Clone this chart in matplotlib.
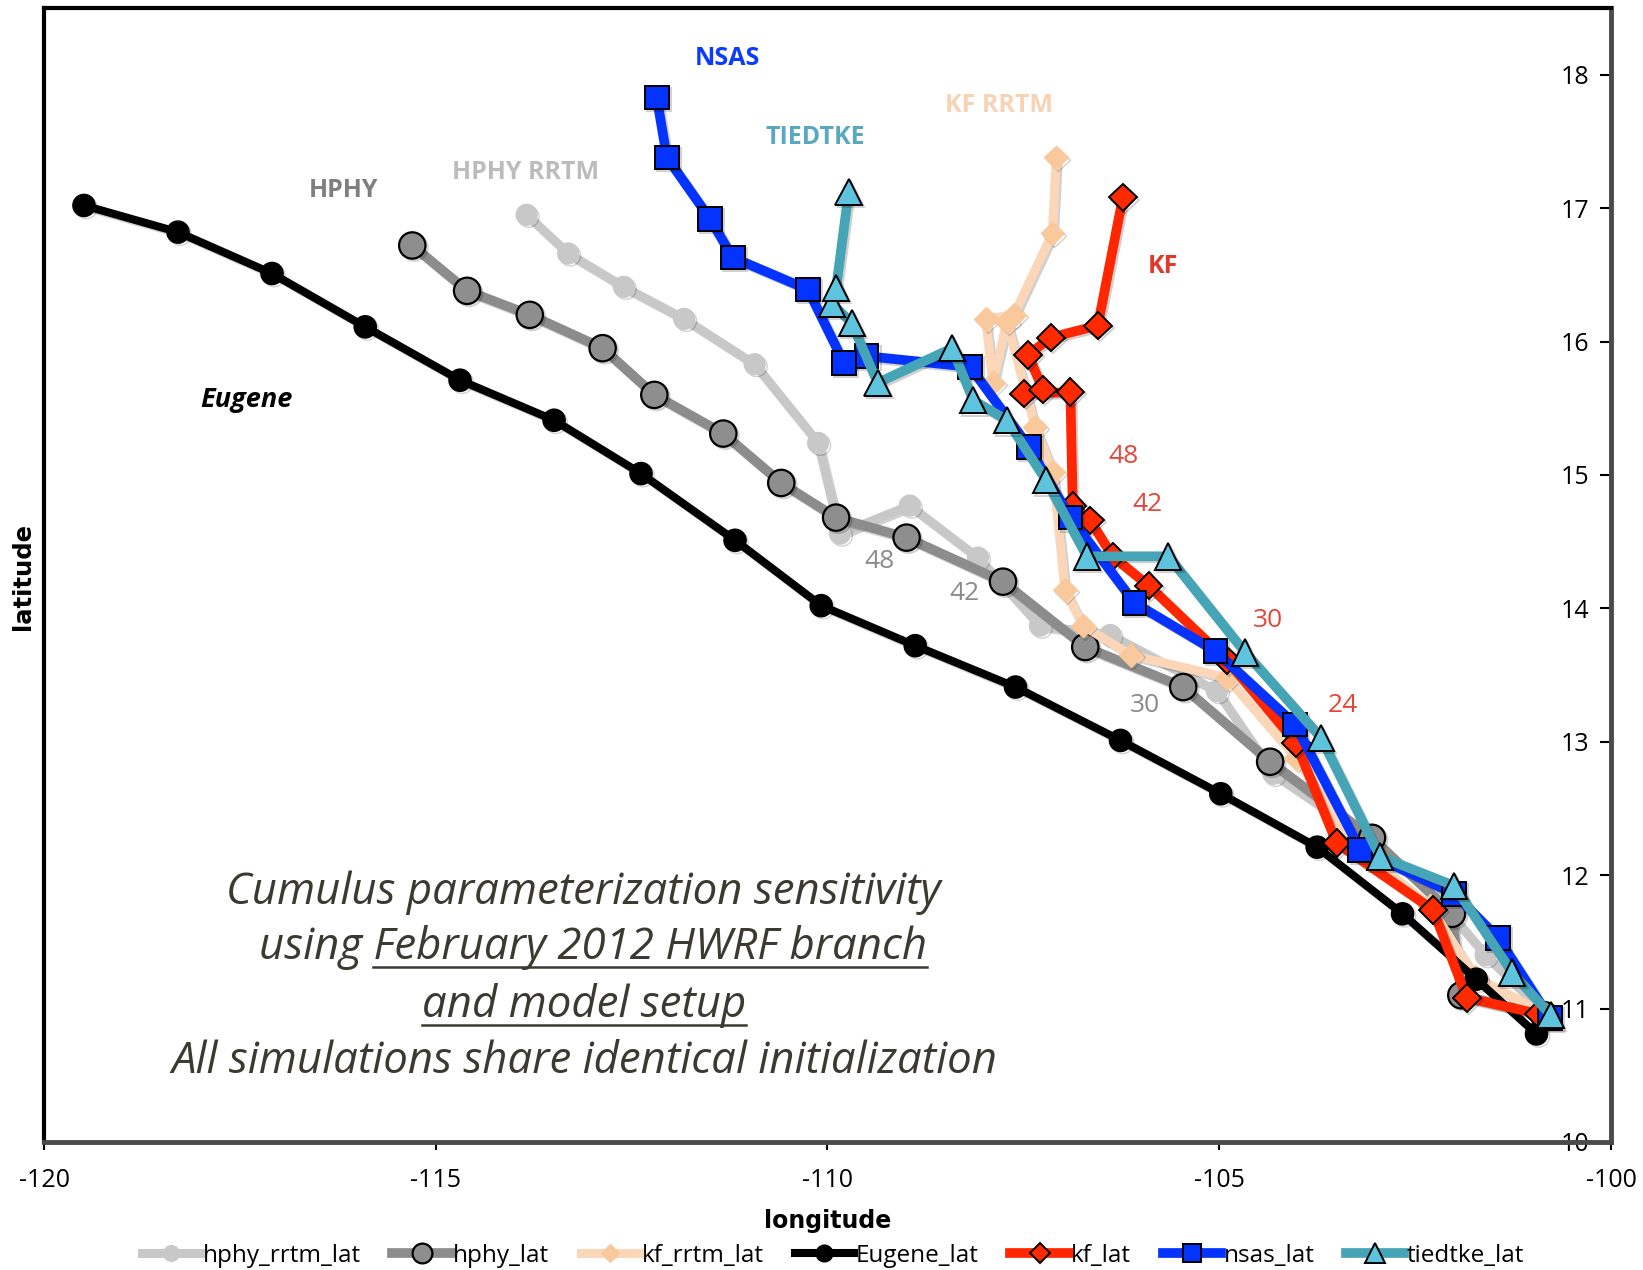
import numpy as np
import matplotlib.pyplot as plt
import matplotlib.patheffects as pe
from matplotlib.lines import Line2D

plt.rcParams['axes.unicode_minus'] = False

# storm track positions every 6 h, starting at the shared initial position
eugene_lon = [-100.95, -101.72, -102.66, -103.75, -104.98, -106.26, -107.60, -108.88, -110.08,
              -111.18, -112.38, -113.49, -114.69, -115.90, -117.09, -118.29, -119.49]
eugene_lat = [10.81, 11.22, 11.71, 12.21, 12.61, 13.01, 13.41, 13.72, 14.02,
              14.51, 15.01, 15.41, 15.71, 16.11, 16.51, 16.82, 17.02]

hphy_lon = [-100.85, -101.91, -102.03, -103.05, -104.35, -105.46, -106.71, -107.76, -108.99,
            -109.89, -110.59, -111.33, -112.21, -112.87, -113.80, -114.60, -115.30]
hphy_lat = [10.95, 11.10, 11.71, 12.28, 12.85, 13.41, 13.71, 14.20, 14.53,
            14.68, 14.94, 15.31, 15.60, 15.95, 16.20, 16.38, 16.72]

hphy_rrtm_lon = [-100.85, -101.60, -102.18, -103.05, -104.31, -105.03, -106.39, -107.29, -108.08,
                 -108.95, -109.84, -110.12, -110.93, -111.83, -112.60, -113.31, -113.84]
hphy_rrtm_lat = [10.97, 11.40, 11.80, 12.26, 12.76, 13.38, 13.80, 13.87, 14.38,
                 14.77, 14.56, 15.24, 15.83, 16.17, 16.41, 16.66, 16.95]

kf_lon = [-100.92, -101.84, -102.27, -103.50, -104.02, -104.90, -105.90, -106.36, -106.65,
          -106.87, -106.90, -107.49, -107.25, -107.44, -107.15, -106.55, -106.23]
kf_lat = [10.96, 11.08, 11.74, 12.24, 12.99, 13.61, 14.17, 14.39, 14.66,
          14.77, 15.62, 15.61, 15.64, 15.90, 16.03, 16.12, 17.08]

kf_rrtm_lon = [-100.84, -101.74, -102.31, -103.27, -104.02, -104.90, -106.13, -106.74, -106.97,
               -107.12, -107.35, -107.71, -107.89, -107.98, -107.62, -107.13, -107.08]
kf_rrtm_lat = [10.96, 11.24, 11.77, 12.22, 12.88, 13.48, 13.65, 13.87, 14.14,
               15.02, 15.36, 16.15, 15.69, 16.17, 16.20, 16.81, 17.38]

nsas_lon = [-100.78, -101.44, -102.00, -103.20, -104.03, -105.05, -106.08, -106.90, -107.43,
            -108.18, -109.50, -109.79, -110.25, -111.21, -111.50, -112.05, -112.18]
nsas_lat = [10.93, 11.53, 11.86, 12.19, 13.13, 13.68, 14.04, 14.68, 15.21,
            15.81, 15.89, 15.84, 16.39, 16.63, 16.92, 17.38, 17.83]

tiedtke_lon = [-100.77, -101.26, -102.00, -102.95, -103.70, -104.67, -105.65, -106.69, -107.21,
               -107.71, -108.14, -108.41, -109.36, -109.69, -109.94, -109.89, -109.73]
tiedtke_lat = [10.95, 11.27, 11.92, 12.14, 13.03, 13.67, 14.39, 14.39, 14.96,
               15.41, 15.56, 15.95, 15.69, 16.14, 16.28, 16.40, 17.12]

fig = plt.figure(figsize=(16.43, 12.70), dpi=100)
ax = fig.add_axes([0.0268, 0.1008, 0.9537, 0.8929])

shadow = [pe.SimpleLineShadow(offset=(1.5, -1.5), shadow_color='k', alpha=0.18), pe.Normal()]

ax.plot(hphy_rrtm_lon, hphy_rrtm_lat, color='#c8c8c8', lw=6.5, marker='o', ms=15,
        mfc='#c8c8c8', mec='#c8c8c8', label='hphy_rrtm_lat', path_effects=shadow)
ax.plot(hphy_lon, hphy_lat, color='#8c8c8c', lw=7, marker='o', ms=19,
        mfc='#8e8e8e', mec='k', mew=1.6, label='hphy_lat', path_effects=shadow)
ax.plot(kf_rrtm_lon, kf_rrtm_lat, color='#fbd6b8', lw=6.5, marker='D', ms=12,
        mfc='#f9c99c', mec='#f9c99c', label='kf_rrtm_lat', path_effects=shadow)
ax.plot(eugene_lon, eugene_lat, color='k', lw=5.8, marker='o', ms=16,
        mfc='k', mec='k', label='Eugene_lat', path_effects=shadow)
ax.plot(kf_lon, kf_lat, color='#ff2600', lw=7, marker='D', ms=14,
        mfc='#ff2a00', mec='k', mew=1.4, label='kf_lat', path_effects=shadow)
ax.plot(nsas_lon, nsas_lat, color='#0433ff', lw=7, marker='s', ms=17,
        mfc='#0433ff', mec='k', mew=1.4, label='nsas_lat', path_effects=shadow)
ax.plot(tiedtke_lon, tiedtke_lat, color='#45a4b6', lw=7, marker='^', ms=19,
        mfc='#5ec3dd', mec='k', mew=1.4, label='tiedtke_lat', path_effects=shadow)

ax.set_xlim(-120, -100)
ax.set_ylim(10, 18.5)
ax.set_xticks([-120, -115, -110, -105, -100])
ax.set_yticks(range(10, 19))

ax.yaxis.tick_right()
ax.tick_params(axis='y', direction='in', length=8, width=1.5, pad=-36, labelsize=18)
ax.tick_params(axis='x', direction='out', length=6, width=1.5, pad=13, labelsize=18)
for lab in ax.get_xticklabels() + ax.get_yticklabels():
    lab.set_fontfamily('Open Sans')

for side in ['left', 'top']:
    ax.spines[side].set_linewidth(3)
    ax.spines[side].set_color('k')
for side in ['right', 'bottom']:
    ax.spines[side].set_linewidth(3.5)
    ax.spines[side].set_color('#4a4a4a')

fig.text(828 / 1643, 1 - 1221 / 1270, 'longitude', ha='center', va='center',
         fontsize=17, fontweight='bold', family='DejaVu Sans')
fig.text(23 / 1643, 1 - 576 / 1270, 'latitude', ha='center', va='center', rotation=90,
         fontsize=17.5, fontweight='bold', family='DejaVu Sans')

# series names inside the plot
names = [(-111.28, 18.12, 'NSAS', '#0a3cff'),
         (-107.81, 17.77, 'KF RRTM', '#f8d2b3'),
         (-110.15, 17.53, 'TIEDTKE', '#5aa8bf'),
         (-116.18, 17.13, 'HPHY', '#7f7f7f'),
         (-113.85, 17.27, 'HPHY RRTM', '#bcbcbc'),
         (-105.72, 16.56, 'KF', '#e0392b')]
for x, y, s, c in names:
    ax.text(x, y, s, color=c, fontsize=18, fontweight='bold', family='Open Sans',
            ha='center', va='center')
ax.text(-117.42, 15.56, 'Eugene', color='k', fontsize=19.5, fontweight='bold',
        style='italic', family='Open Sans', ha='center', va='center')

# forecast hour marks
hours_kf = [(-106.22, 15.14, '48'), (-105.91, 14.78, '42'), (-104.38, 13.91, '30'), (-103.42, 13.27, '24')]
hours_hphy = [(-109.34, 14.35, '48'), (-108.25, 14.11, '42'), (-105.95, 13.27, '30')]
for x, y, s in hours_kf:
    ax.text(x, y, s, color='#e8453a', fontsize=19, family='Open Sans', ha='center', va='center')
for x, y, s in hours_hphy:
    ax.text(x, y, s, color='#8a8a8a', fontsize=19, family='Open Sans', ha='center', va='center')

# note in the lower left
note_color = '#3a3a30'
note_kw = dict(fontsize=31.5, style='italic', family='Open Sans', color=note_color,
               ha='center', va='center')
t1 = fig.text(583 / 1643, 1 - 893 / 1270, 'Cumulus parameterization sensitivity', **note_kw)
t2 = fig.text(593 / 1643, 1 - 948 / 1270, 'using February 2012 HWRF branch', **note_kw)
t3 = fig.text(584 / 1643, 1 - 1006 / 1270, 'and model setup', **note_kw)
t4 = fig.text(584 / 1643, 1 - 1062 / 1270, 'All simulations share identical initialization', **note_kw)

fig.canvas.draw()
r = fig.canvas.get_renderer()
W, H = fig.bbox.width, fig.bbox.height
tmp = fig.text(0, 0, 'February 2012 HWRF branch', **note_kw)
w_part = tmp.get_window_extent(r).width
tmp.remove()
b2 = t2.get_window_extent(r)
b3 = t3.get_window_extent(r)
uy2 = b2.y0 + 4
uy3 = b3.y0 + 4
fig.add_artist(Line2D([(b2.x1 - w_part) / W, b2.x1 / W], [uy2 / H, uy2 / H],
                      color=note_color, lw=1.8))
fig.add_artist(Line2D([b3.x0 / W, b3.x1 / W], [uy3 / H, uy3 / H], color=note_color, lw=1.8))

leg = fig.legend(loc='center', bbox_to_anchor=(0.507, 1 - 1256 / 1270), ncol=7,
                 frameon=False, numpoints=1, markerscale=0.75, handlelength=2.4,
                 handletextpad=0.1, columnspacing=1.3,
                 prop={'family': 'Open Sans', 'size': 17.5})
for h in leg.legend_handles:
    h.set_path_effects([])

fig.savefig('out.png', dpi=100)
